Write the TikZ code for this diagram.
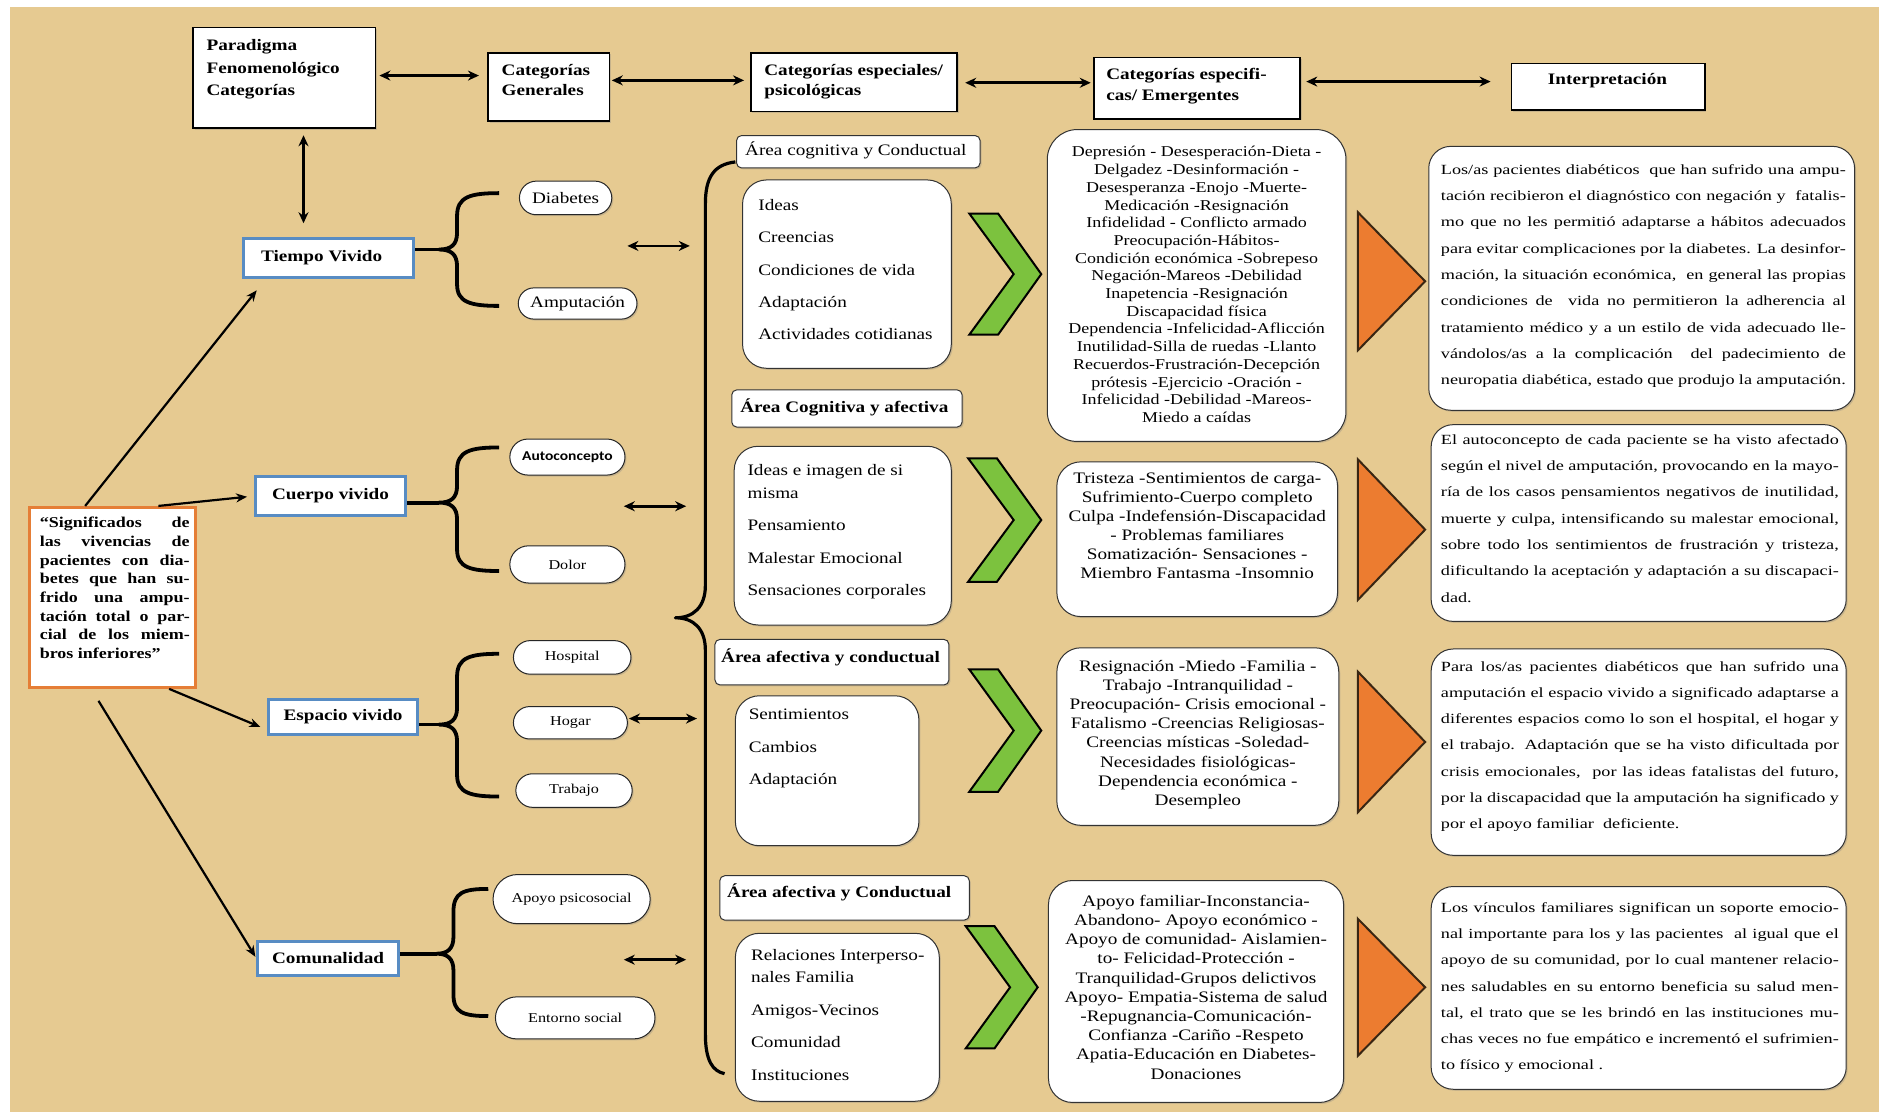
\documentclass[tikz,border=0pt]{standalone}
\usepackage{fontspec}
\setmainfont{Liberation Serif}[FakeStretch=1.2]
\newfontfamily\interpfont{Liberation Serif}[FakeStretch=1.3]
\newfontfamily\calfont{Carlito}[FakeStretch=1.15]
\usetikzlibrary{arrows.meta,shapes.misc,shadows,calc}
\definecolor{parch}{RGB}{230,202,145}
\definecolor{catblue}{RGB}{88,140,195}
\definecolor{sigorange}{RGB}{229,126,54}
\definecolor{chevgreen}{RGB}{124,194,62}
\definecolor{triorange}{RGB}{236,124,48}
\tolerance=9999 \hbadness=10000 \hfuzz=20pt \hyphenpenalty=10000
\tikzset{
  shad/.style={drop shadow={shadow xshift=1.5pt,shadow yshift=-1.5pt,opacity=.3}},
  topbox/.style={draw=black, line width=1.8pt, fill=white, inner sep=0pt, shad},
  catbox/.style={draw=catblue, line width=3pt, fill=white, inner sep=0pt, font=\fontsize{16}{19}\selectfont\bfseries},
  sigbox/.style={draw=sigorange, line width=3pt, fill=white, inner sep=0pt},
  pill/.style={rounded rectangle, draw=black!85, line width=1pt, fill=white, inner sep=0pt, shad},
  rbox/.style={draw=black!80, line width=1pt, fill=white, rounded corners=24pt, inner sep=0pt, shad},
  hdr/.style={draw=black!80, line width=1pt, fill=white, rounded corners=5pt, inner sep=0pt, shad},
  txt/.style={inner sep=0pt, anchor=north west, align=left},
  ctxt/.style={inner sep=0pt, anchor=north, align=center},
  itxt/.style={inner sep=0pt, anchor=north west, align=justify, font=\interpfont\fontsize{14}{26.3}\selectfont},
  dbl/.style={{Stealth[length=11pt,width=10pt]}-{Stealth[length=11pt,width=10pt]}, line width=2.6pt},
  sdbl/.style={{Stealth[length=11pt,width=10pt]}-{Stealth[length=11pt,width=10pt]}, line width=2.8pt},
  arr/.style={-{Stealth[length=11pt,width=9pt]}, line width=2.2pt},
  brc/.style={line width=3.8pt, line join=round},
  chev/.style={fill=chevgreen, draw=black, line width=2pt},
  tri/.style={fill=triorange, draw=black!70!brown, line width=2pt},
  fsm/.style={font=\fontsize{13.5}{16}\selectfont},
  fmd/.style={font=\fontsize{16}{19}\selectfont}
}
\begin{document}
\begin{tikzpicture}[x=1.2pt,y=-1.2pt]
\useasboundingbox (0,0) rectangle (1568,929);
\fill[white] (0,0) rectangle (1568,929);
\fill[parch] (8,6) rectangle (1566,927);

% ---------- top row ----------
\node[topbox, minimum width=182.4pt, minimum height=100.8pt] (par) at (237,65) {};
\node[txt, font=\fontsize{16}{22.2}\selectfont\bfseries] (part) at (172,33) {Paradigma\\Fenomenológico\\Categorías};
\node[topbox, minimum width=121.2pt, minimum height=68.4pt] (gen) at (457.5,72.5) {};
\node[txt, font=\fontsize{16}{20.4}\selectfont\bfseries] (gent) at (418,53.5) {Categorías\\Generales};
\node[topbox, minimum width=206.4pt, minimum height=58.8pt] (esp) at (712,68.5) {};
\node[txt, font=\fontsize{16}{20.4}\selectfont\bfseries] (espt) at (637,53.5) {Categorías especiales/\\psicológicas};
\node[topbox, minimum width=206.4pt, minimum height=61.2pt] (eme) at (998,73.5) {};
\node[txt, font=\fontsize{16}{20.4}\selectfont\bfseries] (emet) at (922,57) {Categorías especifi-\\cas/ Emergentes};
\node[topbox, minimum width=193.2pt, minimum height=46.8pt] (int) at (1340.5,72.5) {};
\node[ctxt, font=\fontsize{16}{20.4}\selectfont\bfseries] (intt) at (1340,61) {Interpretación};

\draw[dbl, shorten <=3pt, shorten >=8.4pt] (par.east |- 0,63) -- (gen.west |- 0,63);
\draw[dbl, shorten <=1.5pt, shorten >=6pt] (gen.east |- 0,67) -- (esp.west |- 0,67);
\draw[dbl, shorten <=7pt, shorten >=2.4pt] (esp.east |- 0,69) -- (eme.west |- 0,69);
\draw[dbl, shorten <=5pt, shorten >=20pt] (eme.east |- 0,68) -- (int.west |- 0,68);

% ---------- left column ----------
\node[sigbox, minimum width=165.6pt, minimum height=180pt] (sig) at (94,498) {};
\node[txt, text width=150pt, align=justify, font=\fontsize{15}{18.7}\selectfont\bfseries] (sigt) at (33,431)
 {“Significados de\linebreak las vivencias de\linebreak pacientes con dia-\linebreak betes que han su-\linebreak frido una ampu-\linebreak tación total o par-\linebreak cial de los miem-\linebreak bros inferiores”};

\node[catbox, minimum width=170.4pt, minimum height=38.4pt] (tv) at (274,215) {Tiempo Vivido\hspace*{14pt}};
\node[catbox, minimum width=150pt, minimum height=39.6pt] (cv) at (275.5,413.5) {Cuerpo vivido};
\node[catbox, minimum width=148.8pt, minimum height=34.8pt] (ev) at (286,597.5) {Espacio vivido};
\node[catbox, minimum width=140.4pt, minimum height=33.6pt] (com) at (273.5,799) {Comunalidad};

\draw[dbl, shorten <=6pt, shorten >=14pt] (par.south -| 253,0) -- (tv.north -| 253,0);

\coordinate (tvin) at (214,242);
\coordinate (evin) at (217,606);
\draw[arr] (sig.north -| 71,0) -- (tvin);
\draw[arr, shorten >=7pt] (sig.north -| 132,0) -- (cv.west);
\draw[arr] (sig.south -| 141,0) -- (evin);
\draw[arr, shorten <=14pt, shorten >=2pt] (sig.south -| 76,0) -- (com.west);

% ---------- pills ----------
\node[pill, fmd, minimum width=92.4pt, minimum height=33.6pt] (dia) at (471.5,165) {Diabetes};
\node[pill, fmd, minimum width=118.8pt, minimum height=31.2pt] (amp) at (481.5,253) {Amputación};
\node[pill, minimum width=115.2pt, minimum height=36pt, font=\calfont\bfseries\fontsize{13.5}{16}\selectfont] (auto) at (473,381) {Autoconcepto};
\node[pill, fsm, minimum width=115.2pt, minimum height=37.2pt] (dol) at (473,470.5) {Dolor};
\node[pill, fsm, minimum width=117.6pt, minimum height=33.6pt] (hos) at (477,548) {Hospital};
\node[pill, fsm, minimum width=114pt, minimum height=32.4pt] (hog) at (475.5,602.5) {Hogar};
\node[pill, fsm, minimum width=116.4pt, minimum height=33.6pt] (tra) at (478.5,659) {Trabajo};
\node[pill, fsm, minimum width=157.2pt, minimum height=49.2pt] (apo) at (476.5,749.5) {Apoyo psicosocial};
\node[pill, fsm, minimum width=159.6pt, minimum height=42pt] (ent) at (479.5,848.5) {Entorno social};

% ---------- small braces ----------
\draw[brc] (tv.east |- 0,208) -- (366,208);
\draw[brc] (416,161) .. controls (392,161) and (381,164) .. (381,180) -- (381,194) .. controls (381,204) and (376,208) .. (366,208) .. controls (376,208) and (381,212) .. (381,222) -- (381,237) .. controls (381,252) and (392,255) .. (416,255);
\draw[brc] (cv.east |- 0,419) -- (366,419);
\draw[brc] (416,373) .. controls (392,373) and (381,376) .. (381,392) -- (381,405) .. controls (381,415) and (376,419) .. (366,419) .. controls (376,419) and (381,423) .. (381,433) -- (381,458) .. controls (381,473) and (392,476) .. (416,476);
\draw[brc] (ev.east |- 0,604) -- (366,604);
\draw[brc] (416,545) .. controls (392,545) and (381,548) .. (381,564) -- (381,590) .. controls (381,600) and (376,604) .. (366,604) .. controls (376,604) and (381,608) .. (381,618) -- (381,646) .. controls (381,661) and (392,664) .. (416,664);
\draw[brc] (com.east |- 0,795) -- (364,795);
\draw[brc] (407,741) .. controls (386,741) and (378,744) .. (378,760) -- (378,781) .. controls (378,791) and (373,795) .. (364,795) .. controls (373,795) and (378,799) .. (378,809) -- (378,829) .. controls (378,844) and (386,847) .. (407,847);

% ---------- big brace ----------
\draw[line width=3.2pt, line join=round] (613,135) .. controls (595,137) and (588,148) .. (588,170) -- (588,488) .. controls (588,506) and (578,515) .. (563,515) .. controls (578,515) and (588,524) .. (588,542) -- (588,862) .. controls (588,884) and (594,893) .. (604,895);

% ---------- small double arrows ----------
\coordinate (b1l) at (523,205); \coordinate (b1r) at (575,205);
\coordinate (b2l) at (520,422); \coordinate (b2r) at (572,422);
\coordinate (b3r) at (581,599);
\coordinate (b4l) at (520,800); \coordinate (b4r) at (572,800);
\draw[sdbl] (b1l) -- (b1r);
\draw[sdbl] (b2l) -- (b2r);
\draw[sdbl, shorten <=1pt] (hog.east |- b3r) -- (b3r);
\draw[sdbl] (b4l) -- (b4r);

% ---------- area headers ----------
\node[hdr, minimum width=243.6pt, minimum height=32.4pt] (h1) at (715.5,126.5) {};
\node[inner sep=0pt, anchor=base west, fmd] (h1t) at (621,130) {Área cognitiva y Conductual};
\node[hdr, minimum width=230.4pt, minimum height=37.2pt] (h2) at (706,340.5) {};
\node[inner sep=0pt, anchor=base west, font=\fontsize{16}{19}\selectfont\bfseries] (h2t) at (617,343.5) {Área Cognitiva y afectiva};
\node[hdr, minimum width=234pt, minimum height=45.6pt] (h3) at (693.5,552) {};
\node[inner sep=0pt, anchor=base west, font=\fontsize{16}{19}\selectfont\bfseries] (h3t) at (601,552) {Área afectiva y conductual};
\node[hdr, minimum width=249.6pt, minimum height=44.4pt] (h4) at (704,748.5) {};
\node[inner sep=0pt, anchor=base west, font=\fontsize{16}{19}\selectfont\bfseries] (h4t) at (606,748) {Área afectiva y Conductual};

% ---------- area lists ----------
\node[rbox, minimum width=208.8pt, minimum height=188.4pt] (l1) at (706,228.5) {};
\node[txt, font=\fontsize{16}{22.8}\selectfont] (l1t) at (632,166) {Ideas\\[9.6pt]Creencias\\[9.6pt]Condiciones de vida\\[9.6pt]Adaptación\\[9.6pt]Actividades cotidianas};
\node[rbox, minimum width=217.2pt, minimum height=178.8pt] (l2) at (702.5,446.5) {};
\node[txt, font=\fontsize{16}{22.8}\selectfont] (l2t) at (623,387) {Ideas e imagen de si\\misma\\[9.6pt]Pensamiento\\[9.6pt]Malestar Emocional\\[9.6pt]Sensaciones corporales};
\node[rbox, minimum width=183.6pt, minimum height=150pt] (l3) at (689.5,642.5) {};
\node[txt, font=\fontsize{16}{22.8}\selectfont] (l3t) at (624,591) {Sentimientos\\[9.6pt]Cambios\\[9.6pt]Adaptación};
\node[rbox, minimum width=204pt, minimum height=168pt] (l4) at (698,848) {};
\node[txt, font=\fontsize{16}{22.8}\selectfont] (l4t) at (626,791) {Relaciones Interperso-\\nales Familia\\[9.6pt]Amigos-Vecinos\\[9.6pt]Comunidad\\[9.6pt]Instituciones};

% ---------- chevrons ----------
\draw[chev] (808,178) -- (832,178) -- (868,228.5) -- (832,279) -- (808,279) -- (845,228.5) -- cycle;
\draw[chev] (807,382) -- (831,382) -- (868,433.5) -- (831,485) -- (807,485) -- (845,433.5) -- cycle;
\draw[chev] (808,558) -- (832,558) -- (868,609) -- (832,660) -- (808,660) -- (845,609) -- cycle;
\draw[chev] (805,772) -- (829,772) -- (865,823) -- (829,874) -- (805,874) -- (842,823) -- cycle;

% ---------- emergent ----------
\node[rbox, rounded corners=30pt, minimum width=298.8pt, minimum height=312pt] (e1) at (997.5,238) {};
\node[ctxt, font=\fontsize{15}{17.7}\selectfont] (e1t) at (997.5,122) {Depresión - Desesperación-Dieta -\\Delgadez -Desinformación -\\Desesperanza -Enojo -Muerte-\\Medicación -Resignación\\Infidelidad - Conflicto armado\\Preocupación-Hábitos-\\Condición económica -Sobrepeso\\Negación-Mareos -Debilidad\\Inapetencia -Resignación\\Discapacidad física\\Dependencia -Infelicidad-Aflicción\\Inutilidad-Silla de ruedas -Llanto\\Recuerdos-Frustración-Decepción\\prótesis -Ejercicio -Oración -\\Infelicidad -Debilidad -Mareos-\\Miedo a caídas};
\node[rbox, minimum width=280.8pt, minimum height=154.8pt] (e2) at (998,449.5) {};
\node[ctxt, font=\fontsize{16}{19}\selectfont] (e2t) at (998,394) {Tristeza -Sentimientos de carga-\\Sufrimiento-Cuerpo completo\\Culpa -Indefensión-Discapacidad\\- Problemas familiares\\Somatización- Sensaciones -\\Miembro Fantasma -Insomnio};
\node[rbox, minimum width=282pt, minimum height=177.6pt] (e3) at (998.5,614) {};
\node[ctxt, font=\fontsize{16}{19.2}\selectfont] (e3t) at (998.5,550) {Resignación -Miedo -Familia -\\Trabajo -Intranquilidad -\\Preocupación- Crisis emocional -\\Fatalismo -Creencias Religiosas-\\Creencias místicas -Soledad-\\Necesidades fisiológicas-\\Dependencia económica -\\Desempleo};
\node[rbox, minimum width=295.2pt, minimum height=222pt] (e4) at (997,826.5) {};
\node[ctxt, font=\fontsize{16}{19.2}\selectfont] (e4t) at (997,746) {Apoyo familiar-Inconstancia-\\Abandono- Apoyo económico -\\Apoyo de comunidad- Aislamien-\\to- Felicidad-Protección -\\Tranquilidad-Grupos delictivos\\Apoyo- Empatia-Sistema de salud\\-Repugnancia-Comunicación-\\Confianza -Cariño -Respeto\\Apatia-Educación en Diabetes-\\Donaciones};

% ---------- triangles ----------
\draw[tri] (1132,177) -- (1188,234.5) -- (1132,292) -- cycle;
\draw[tri] (1132,383) -- (1188,441.5) -- (1132,500) -- cycle;
\draw[tri] (1132,560) -- (1188,618.5) -- (1132,677) -- cycle;
\draw[tri] (1132,766) -- (1188,823) -- (1132,880) -- cycle;

% ---------- interpretation ----------
\node[rbox, rounded corners=22pt, minimum width=426pt, minimum height=264pt] (i1) at (1368.5,232) {};
\node[itxt, text width=405pt] (i1t) at (1201,137)
 {Los/as pacientes diabéticos~ que han sufrido una ampu-\linebreak tación recibieron el diagnóstico con negación y~ fatalis-\linebreak mo que no les permitió adaptarse a hábitos adecuados\linebreak para evitar complicaciones por la diabetes. La desinfor-\linebreak mación, la situación económica,~ en general las propias\linebreak condiciones de~ vida no permitieron la adherencia al\linebreak tratamiento médico y a un estilo de vida adecuado lle-\linebreak vándolos/as a la complicación~ del padecimiento de\linebreak neuropatia diabética, estado que produjo la amputación.};
\node[rbox, rounded corners=22pt, minimum width=415.2pt, minimum height=196.8pt] (i2) at (1366,436) {};
\node[itxt, text width=398pt] (i2t) at (1201,362)
 {El autoconcepto de cada paciente se ha visto afectado\linebreak según el nivel de amputación, provocando en la mayo-\linebreak ría de los casos pensamientos negativos de inutilidad,\linebreak muerte y culpa, intensificando su malestar emocional,\linebreak sobre todo los sentimientos de frustración y tristeza,\linebreak dificultando la aceptación y adaptación a su discapaci-\linebreak dad.};
\node[rbox, rounded corners=22pt, minimum width=415.2pt, minimum height=206.4pt] (i3) at (1366,627) {};
\node[itxt, text width=398pt] (i3t) at (1201,551)
 {Para los/as pacientes diabéticos que han sufrido una\linebreak amputación el espacio vivido a significado adaptarse a\linebreak diferentes espacios como lo son el hospital, el hogar y\linebreak el trabajo. Adaptación que se ha visto dificultada por\linebreak crisis emocionales,~ por las ideas fatalistas del futuro,\linebreak por la discapacidad que la amputación ha significado y\linebreak por el apoyo familiar~ deficiente.};
\node[rbox, rounded corners=22pt, minimum width=415.2pt, minimum height=202.8pt] (i4) at (1366,823.5) {};
\node[itxt, text width=398pt] (i4t) at (1201,752)
 {Los vínculos familiares significan un soporte emocio-\linebreak nal importante para los y las pacientes~ al igual que el\linebreak apoyo de su comunidad, por lo cual mantener relacio-\linebreak nes saludables en su entorno beneficia su salud men-\linebreak tal, el trato que se les brindó en las instituciones mu-\linebreak chas veces no fue empático e incrementó el sufrimien-\linebreak to físico y emocional .};
\end{tikzpicture}
\end{document}
